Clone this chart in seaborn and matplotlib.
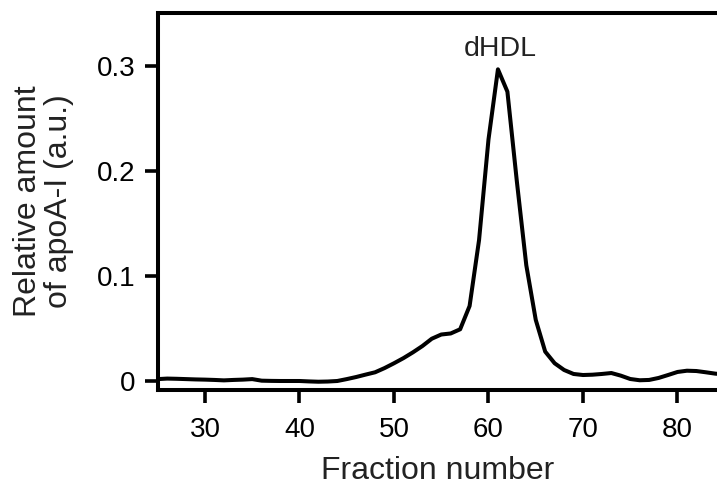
import pandas as pd
import numpy as np
import matplotlib
matplotlib.use("Agg")
import matplotlib.pyplot as plt
import seaborn as sns

# fractions and relative apoA-I amount
fractions = list(range(25, 86))
apoa1 = [
    0.0015, 0.0020, 0.0018, 0.0015, 0.0012, 0.0010, 0.0007, 0.0003, 0.0007, 0.0010,  # 25-34
    0.0015, 0.0000, -0.0002, -0.0003, -0.0003, -0.0003, -0.0007, -0.0010, -0.0008, -0.0003,  # 35-44
    0.0015, 0.0035, 0.0058, 0.0080, 0.0120, 0.0166, 0.0215, 0.0270, 0.0330, 0.0400,  # 45-54
    0.0440, 0.0450, 0.0490, 0.0712, 0.1340, 0.2300, 0.2968, 0.2755, 0.1900, 0.1100,  # 55-64
    0.0580, 0.0277, 0.0166, 0.0102, 0.0064, 0.0054, 0.0057, 0.0064, 0.0073, 0.0048,  # 65-74
    0.0016, 0.0004, 0.0007, 0.0026, 0.0054, 0.0083, 0.0095, 0.0092, 0.0080, 0.0067,  # 75-84
    0.0060,  # 85
]
x_ticks = [30, 40, 50, 60, 70, 80]
y_ticks = [0, 0.1, 0.2, 0.3]
y_tick_labels = ["0", "0.1", "0.2", "0.3"]
peak_label = "dHDL"
peak_x, peak_y = 61.2, 0.3095

df = pd.DataFrame({"fraction": fractions, "apoA-I": apoa1})

sns.set_style("ticks")
plt.rcParams["font.family"] = ["Liberation Sans", "DejaVu Sans"]

fig = plt.figure(figsize=(7.17, 4.86), dpi=100)
ax = fig.add_axes([0.2204, 0.1975, 0.7796, 0.7758])

sns.lineplot(data=df, x="fraction", y="apoA-I", color="black", linewidth=2.9, ax=ax)

ax.set_xlim(25.03, 84.18)
ax.set_ylim(-0.0089, 0.3505)
ax.set_xticks(x_ticks)
ax.set_yticks(y_ticks)
ax.set_yticklabels(y_tick_labels)

ax.text(peak_x, peak_y, peak_label, ha="center", va="baseline", fontsize=20.5, color="#222222")

ax.set_xlabel("Fraction number", fontsize=23, labelpad=9, color="#222222")
ax.set_ylabel("Relative amount\nof apoA-I (a.u.)", fontsize=23, labelpad=16, linespacing=1.05,
              color="#222222")

for side in ["left", "bottom", "top"]:
    ax.spines[side].set_linewidth(2.9)
    ax.spines[side].set_color("black")
ax.spines["right"].set_visible(False)
ax.tick_params(axis="both", labelsize=20, width=2.6, length=9.5, colors="black")
ax.tick_params(axis="x", pad=10)
ax.tick_params(axis="y", pad=7)

fig.savefig("out.png", dpi=100)
